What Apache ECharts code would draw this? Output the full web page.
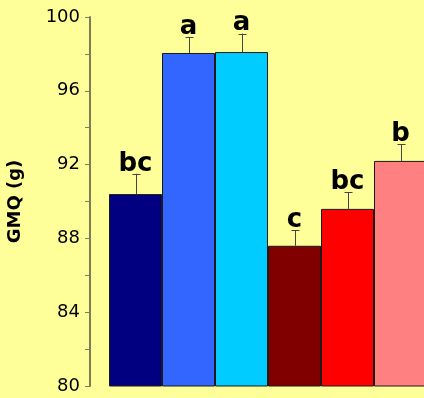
<!DOCTYPE html>
<html>
<head>
<meta charset="utf-8">
<script src="https://cdn.jsdelivr.net/npm/echarts@6/dist/echarts.min.js"></script>
<style>html,body{margin:0;padding:0;background:#FFFF99;}#c{width:424px;height:398px;}</style>
</head>
<body>
<div id="c"></div>
<script>
var groups = ['G1', 'G2', 'G3', 'G4', 'G5', 'G6'];
var means = [90.4, 98.05, 98.1, 87.6, 89.6, 92.2];
var errTops = [91.5, 98.9, 99.1, 88.45, 90.5, 93.1];
var letters = ['bc', 'a', 'a', 'c', 'bc', 'b'];
var colors = ['#000080', '#3366FF', '#00CCFF', '#800000', '#FF0000', '#FF8080'];
var yTicks = [80, 84, 88, 92, 96, 100];

var chart = echarts.init(document.getElementById('c'));
var axisColor = '#7d7d55';
chart.setOption({
  backgroundColor: '#FFFF99',
  animation: false,
  grid: { left: 109, top: 17, bottom: 12, width: 318, containLabel: false, outerBoundsMode: 'none' },
  xAxis: {
    type: 'category',
    data: groups,
    axisLine: { show: false },
    axisTick: { show: false },
    axisLabel: { show: false },
    splitLine: { show: false }
  },
  yAxis: {
    type: 'value',
    min: yTicks[0],
    max: yTicks[yTicks.length - 1],
    interval: yTicks[1] - yTicks[0],
    offset: 19,
    name: 'GMQ (g)',
    nameLocation: 'middle',
    nameGap: 66,
    nameRotate: 90,
    nameTextStyle: { fontFamily: 'DejaVu Sans', fontWeight: 'bold', fontSize: 18, color: '#000' },
    axisLine: { show: true, lineStyle: { color: axisColor, width: 2 } },
    axisTick: { show: true, length: 5, lineStyle: { color: axisColor, width: 1 } },
    minorTick: { show: true, splitNumber: 2, length: 5, lineStyle: { color: axisColor, width: 1 } },
    axisLabel: { fontFamily: 'DejaVu Sans', fontSize: 18, color: '#000', margin: 10 },
    splitLine: { show: false }
  },
  series: [
    {
      type: 'bar',
      barCategoryGap: '0%',
      data: means.map(function (v, i) {
        return { value: v, itemStyle: { color: colors[i] } };
      }),
      itemStyle: { borderColor: '#1a1a1a', borderWidth: 1 }
    },
    {
      type: 'custom',
      data: means.map(function (v, i) { return [i, v, errTops[i]]; }),
      renderItem: function (params, api) {
        var i = api.value(0);
        var top = api.coord([i, api.value(1)]);
        var err = api.coord([i, api.value(2)]);
        var x = Math.round(top[0]) + 0.5;
        return {
          type: 'group',
          children: [
            { type: 'line', shape: { x1: x, y1: top[1], x2: x, y2: err[1] }, style: { stroke: '#444', lineWidth: 1 } },
            { type: 'line', shape: { x1: x - 4, y1: Math.round(err[1]) + 0.5, x2: x + 4, y2: Math.round(err[1]) + 0.5 }, style: { stroke: '#444', lineWidth: 1 } },
            { type: 'text', style: { text: letters[params.dataIndex], x: x - 1, y: err[1] + 3, textAlign: 'center', textVerticalAlign: 'bottom', font: 'bold 26px "DejaVu Sans"', fill: '#000' } }
          ]
        };
      },
      z: 5
    }
  ]
});
</script>
</body>
</html>
